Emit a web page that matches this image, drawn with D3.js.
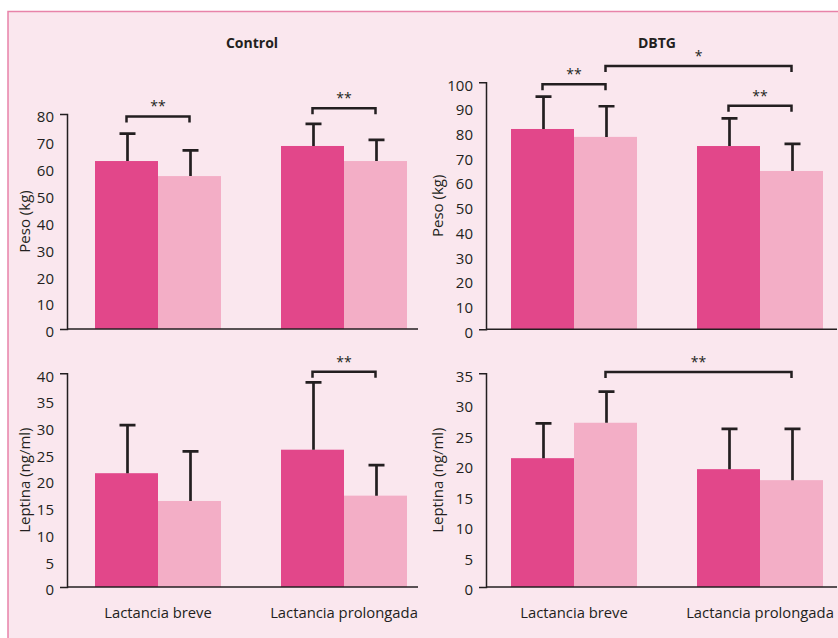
<!DOCTYPE html>
<html>
<head>
<meta charset="utf-8">
<script src="https://cdn.jsdelivr.net/npm/d3@7"></script>
<style>
  html, body { margin: 0; padding: 0; background: #ffffff; }
  svg { display: block; }
  text { font-family: "Open Sans", "DejaVu Sans", sans-serif; fill: #231f20; }
</style>
</head>
<body>
<svg id="chart" width="838" height="638"></svg>
<script>
// ---------- DATA ----------
const groups = ["Lactancia breve", "Lactancia prolongada"];
const panelTitles = ["Control", "DBTG"];
const yLabels = ["Peso (kg)", "Leptina (ng/ml)"];

// Peso (kg) – Control
const controlPesoDark = [62.5, 68.1];
const controlPesoDarkErr = [10.2, 8.2];
const controlPesoLight = [56.9, 62.5];
const controlPesoLightErr = [9.6, 7.9];
const controlPesoTicks = [0, 10, 20, 30, 40, 50, 60, 70, 80];

// Peso (kg) – DBTG
const dbtgPesoDark = [81.1, 74.2];
const dbtgPesoDarkErr = [13.1, 11.2];
const dbtgPesoLight = [77.9, 64.1];
const dbtgPesoLightErr = [12.4, 11.0];
const dbtgPesoTicks = [0, 10, 20, 30, 40, 50, 60, 70, 80, 90, 100];

// Leptina (ng/ml) – Control
const controlLeptinaDark = [21.3, 25.7];
const controlLeptinaDarkErr = [9.0, 12.6];
const controlLeptinaLight = [16.1, 17.1];
const controlLeptinaLightErr = [9.3, 5.7];
const controlLeptinaTicks = [0, 5, 10, 15, 20, 25, 30, 35, 40];

// Leptina (ng/ml) – DBTG
const dbtgLeptinaDark = [21.1, 19.3];
const dbtgLeptinaDarkErr = [5.7, 6.6];
const dbtgLeptinaLight = [26.9, 17.5];
const dbtgLeptinaLightErr = [5.1, 8.4];
const dbtgLeptinaTicks = [0, 5, 10, 15, 20, 25, 30, 35];

// significance brackets: [group, series] -> [group, series], level in data units
const controlPesoSig = [
  { from: [0, 0], to: [0, 1], level: 79.1, label: "**" },
  { from: [1, 0], to: [1, 1], level: 82.1, label: "**" }
];
const dbtgPesoSig = [
  { from: [0, 0], to: [0, 1], level: 99.2, label: "**" },
  { from: [0, 1], to: [1, 1], level: 106.6, label: "*" },
  { from: [1, 0], to: [1, 1], level: 90.5, label: "**" }
];
const controlLeptinaSig = [
  { from: [1, 0], to: [1, 1], level: 40.3, label: "**" }
];
const dbtgLeptinaSig = [
  { from: [0, 1], to: [1, 1], level: 35.2, label: "**" }
];

// ---------- STYLE / LAYOUT ----------
const colors = ["#e2478a", "#f3aec6"];
const ink = "#231f20";

const panels = [
  { dark: controlPesoDark, darkErr: controlPesoDarkErr, light: controlPesoLight, lightErr: controlPesoLightErr,
    ticks: controlPesoTicks, sig: controlPesoSig, yLabel: yLabels[0], title: panelTitles[0], titleX: 252,
    axisX: 67, barStart: 95, y0: 329, y1: 114, labelX: 25, xLabels: false },
  { dark: dbtgPesoDark, darkErr: dbtgPesoDarkErr, light: dbtgPesoLight, lightErr: dbtgPesoLightErr,
    ticks: dbtgPesoTicks, sig: dbtgPesoSig, yLabel: yLabels[0], title: panelTitles[1], titleX: 657,
    axisX: 486, barStart: 511, y0: 329.3, y1: 82.3, labelX: 438, xLabels: false },
  { dark: controlLeptinaDark, darkErr: controlLeptinaDarkErr, light: controlLeptinaLight, lightErr: controlLeptinaLightErr,
    ticks: controlLeptinaTicks, sig: controlLeptinaSig, yLabel: yLabels[1], title: null,
    axisX: 67, barStart: 95, y0: 587, y1: 373.3, labelX: 25, xLabels: true },
  { dark: dbtgLeptinaDark, darkErr: dbtgLeptinaDarkErr, light: dbtgLeptinaLight, lightErr: dbtgLeptinaLightErr,
    ticks: dbtgLeptinaTicks, sig: dbtgLeptinaSig, yLabel: yLabels[1], title: null,
    axisX: 486, barStart: 511, y0: 587, y1: 373.3, labelX: 438, xLabels: true }
];

const svg = d3.select("#chart");

// background box
svg.append("rect")
  .attr("x", 8).attr("y", 11.5)
  .attr("width", 900).attr("height", 700)
  .attr("fill", "#fae7ee")
  .attr("stroke", "#e883a9")
  .attr("stroke-width", 1.5);

const axisWidth = 351;
const barsWidth = 312;

panels.forEach(p => {
  const g = svg.append("g");
  const ticks = p.ticks;
  const y = d3.scaleLinear().domain([0, ticks[ticks.length - 1]]).range([p.y0, p.y1]);
  const x0 = d3.scaleBand().domain(groups)
    .range([p.barStart, p.barStart + barsWidth])
    .paddingInner(60 / 186).paddingOuter(0);
  const x1 = d3.scaleBand().domain([0, 1]).range([0, x0.bandwidth()]).padding(0);

  const rows = groups.map((gName, i) => ({
    group: gName,
    vals: [
      { s: 0, v: p.dark[i], e: p.darkErr[i] },
      { s: 1, v: p.light[i], e: p.lightErr[i] }
    ]
  }));

  // bars
  const gg = g.selectAll(".grp").data(rows).join("g")
    .attr("transform", d => `translate(${x0(d.group)},0)`);
  gg.selectAll("rect").data(d => d.vals).join("rect")
    .attr("x", d => x1(d.s))
    .attr("width", x1.bandwidth())
    .attr("y", d => y(d.v))
    .attr("height", d => y(0) - y(d.v))
    .attr("fill", d => colors[d.s]);

  // error bars
  const capHalf = 8;
  gg.selectAll("path.err").data(d => d.vals).join("path")
    .attr("class", "err")
    .attr("d", d => {
      const cx = x1(d.s) + x1.bandwidth() / 2 + 1;
      return `M${cx},${y(d.v)}V${y(d.v + d.e)}M${cx - capHalf},${y(d.v + d.e)}H${cx + capHalf}`;
    })
    .attr("fill", "none")
    .attr("stroke", ink)
    .attr("stroke-width", 2.7);

  // y axis
  const yAxis = d3.axisLeft(y).tickValues(ticks).tickFormat(d3.format("d"))
    .tickSizeInner(0).tickSizeOuter(7).tickPadding(13);
  const ya = g.append("g").attr("transform", `translate(${p.axisX},0)`).call(yAxis);
  ya.select(".domain").attr("stroke", ink).attr("stroke-width", 1.5);
  ya.selectAll(".tick line").remove();
  ya.selectAll(".tick text")
    .attr("font-family", "Open Sans, sans-serif")
    .attr("font-size", 15)
    .attr("fill", ink)
    .attr("dy", "0.52em");

  // x axis baseline
  g.append("line")
    .attr("x1", p.axisX).attr("x2", p.axisX + axisWidth)
    .attr("y1", y(0)).attr("y2", y(0))
    .attr("stroke", ink).attr("stroke-width", 1.5);

  if (p.xLabels) {
    const xAxis = d3.axisBottom(x0).tickSize(0).tickPadding(20);
    const xa = g.append("g").attr("transform", `translate(0,${y(0)})`).call(xAxis);
    xa.select(".domain").remove();
    xa.selectAll(".tick text")
      .attr("font-family", "Open Sans, sans-serif")
      .attr("font-size", 14.8)
      .attr("fill", ink);
  }

  // y label
  g.append("text")
    .attr("transform", `translate(${p.labelX},${(p.y0 + p.y1) / 2}) rotate(-90)`)
    .attr("text-anchor", "middle")
    .attr("dy", "0.35em")
    .attr("font-size", 15)
    .text(p.yLabel);

  // title
  if (p.title) {
    g.append("text")
      .attr("x", p.titleX).attr("y", 48)
      .attr("text-anchor", "middle")
      .attr("font-size", 14)
      .attr("font-weight", "bold")
      .text(p.title);
  }

  // significance brackets
  const cxOf = ([gi, si]) => x0(groups[gi]) + x1(si) + x1.bandwidth() / 2;
  p.sig.forEach(s => {
    const xa = cxOf(s.from), xb = cxOf(s.to);
    const yy = y(s.level);
    g.append("path")
      .attr("d", `M${xa},${yy + 6}V${yy}H${xb}V${yy + 6}`)
      .attr("fill", "none")
      .attr("stroke", ink)
      .attr("stroke-width", 2.5);
    g.append("text")
      .attr("x", (xa + xb) / 2)
      .attr("y", yy - 5)
      .attr("text-anchor", "middle")
      .attr("font-size", 14)
      .text(s.label);
  });
});
</script>
</body>
</html>
